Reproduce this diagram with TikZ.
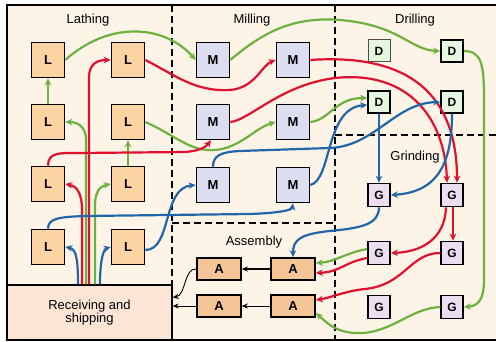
\documentclass[tikz,border=0pt]{standalone}
\usepackage{fontspec}
\setmainfont{Liberation Sans}
\usetikzlibrary{arrows.meta}
\definecolor{bgc}{HTML}{FDF3E6}
\definecolor{lfill}{HTML}{FCD4A4}
\definecolor{afill}{HTML}{F6C597}
\definecolor{mfill}{HTML}{DCDDEF}
\definecolor{dfill}{HTML}{E6F7E0}
\definecolor{gfill}{HTML}{ECDDF0}
\definecolor{rfill}{HTML}{FDE5D5}
\definecolor{gcol}{HTML}{6BB33E}
\definecolor{rcol}{HTML}{E1102F}
\definecolor{bcol}{HTML}{2166A8}
\pgfdeclarelayer{back}
\pgfsetlayers{back,main}
\begin{document}
\begin{tikzpicture}[x=1pt,y=-1pt,
  box/.style={draw=black, line width=1.6pt, inner sep=0pt, font=\bfseries\fontsize{13}{13}\selectfont},
  lbox/.style={box, fill=lfill, minimum width=33pt, minimum height=35pt},
  mbox/.style={box, fill=mfill, minimum width=33pt, minimum height=35pt},
  dbox/.style={box, fill=dfill, minimum width=22pt, minimum height=22pt, font=\bfseries\fontsize{12}{12}\selectfont},
  gbox/.style={box, fill=gfill, minimum width=22pt, minimum height=23pt, font=\bfseries\fontsize{12}{12}\selectfont},
  abox/.style={box, fill=afill, minimum width=44pt, minimum height=22pt},
  lbl/.style={font=\fontsize{13}{13}\selectfont},
  flow/.style={line width=2.2pt, -{Stealth[length=7pt,width=6.5pt]}},
  gflow/.style={flow, draw=gcol},
  rflow/.style={flow, draw=rcol},
  bflow/.style={flow, draw=bcol},
  divider/.style={draw=black, line width=1.6pt, dash pattern=on 7pt off 4pt}
]
\path[use as bounding box] (0,0) rectangle (496,342);
\begin{pgfonlayer}{back}
\fill[bgc] (7,5) rectangle (496,340);
\draw[line width=1.4pt] (496,5) -- (7,5) -- (7,340) -- (496,340);
\draw[divider] (172,5) -- (172,340);
\draw[divider] (335,5) -- (335,340);
\draw[divider] (335,135) -- (496,135);
\draw[divider] (172,223) -- (335,223);
\end{pgfonlayer}

% labels
\node[lbl] (tlath) at (88,20) {Lathing};
\node[lbl] (tmill) at (252,20) {Milling};
\node[lbl] (tdrill) at (415,20) {Drilling};
\node[lbl] (tgrind) at (415,157) {Grinding};
\node[lbl] (tasm) at (254,242) {Assembly};

% receiving
\node[draw=black, line width=1.2pt, fill=rfill, minimum width=165pt, minimum height=55pt,
      align=center, lbl, inner sep=0pt] (recv) at (89.5,312.5) {Receiving and\\shipping};

% lathes
\node[lbox] (L11) at (48,60) {L};
\node[lbox] (L12) at (128,60) {L};
\node[lbox] (L21) at (48,122) {L};
\node[lbox] (L22) at (128,122) {L};
\node[lbox] (L31) at (48,184) {L};
\node[lbox] (L32) at (128,184) {L};
\node[lbox] (L41) at (48,247) {L};
\node[lbox] (L42) at (128,247) {L};
% mills
\node[mbox] (M11) at (213,60) {M};
\node[mbox] (M12) at (293,60) {M};
\node[mbox] (M21) at (213,122) {M};
\node[mbox] (M22) at (293,122) {M};
\node[mbox] (M31) at (213,185) {M};
\node[mbox] (M32) at (293,185) {M};
% drills
\node[dbox, draw=black!70, line width=1pt] (D11) at (379,51) {D};
\node[dbox] (D12) at (452,51) {D};
\node[dbox] (D21) at (379,102) {D};
\node[dbox] (D22) at (452,102) {D};
% grinders
\node[gbox] (G11) at (379,195) {G};
\node[gbox] (G12) at (452,195) {G};
\node[gbox] (G21) at (379,253) {G};
\node[gbox] (G22) at (452,253) {G};
\node[gbox] (G31) at (379,307) {G};
\node[gbox] (G32) at (452,307) {G};
% assembly
\node[abox] (A11) at (219,269) {A};
\node[abox] (A12) at (293,269) {A};
\node[abox] (A21) at (219,306) {A};
\node[abox] (A22) at (293,306) {A};

% ---- from receiving
\draw[bflow] ([xshift=-11.5pt]recv.north) .. controls (78,258) and (76,249) .. (L41.east);
\draw[rflow] ([xshift=-7.5pt]recv.north) -- (82,210) .. controls (82,192) and (76,186) .. (L31.east);
\draw[gflow] ([xshift=-3.5pt]recv.north) -- (86,140) .. controls (86,127) and (78,122) .. (L21.east);
\draw[rflow] ([xshift=-0.5pt]recv.north) -- (89,78) .. controls (89,63) and (98,60) .. (L12.west);
\draw[gflow] ([xshift=5.5pt]recv.north) -- (95,205) .. controls (95,192) and (100,186) .. (L32.west);
\draw[bflow] ([xshift=10.5pt]recv.north) .. controls (100,258) and (104,249) .. (L42.west);

% ---- green
\draw[gflow] (L21.north) -- (L11.south);
\draw[gflow] (L11.east) .. controls (110,20) and (165,25) .. (M11.west);
\draw[gflow] (M11.east) .. controls (260,35) and (290,16) .. (340,20) .. controls (400,25) and (410,50) .. (D12.west);
\draw[gflow] (D12.east) .. controls (482,51) and (484,65) .. (484,100) -- (484,280) .. controls (484,300) and (478,306) .. (G32.east);
\draw[gflow] (G32.west) .. controls (410,308) and (390,335) .. (355,333) .. controls (335,332) and (326,322) .. ([yshift=-7pt]A22.east);
\draw[gflow] (L32.north) -- (L22.south);
\draw[gflow] (L22.east) .. controls (175,135) and (190,152) .. (215,150) .. controls (240,148) and (255,128) .. (M22.west);
\draw[gflow] (M22.east) .. controls (330,120) and (335,98) .. ([yshift=4pt]D21.west);
\draw[gflow] ([yshift=4pt]G21.west) .. controls (345,253) and (335,262) .. ([yshift=6pt]A12.east);

% ---- red
\draw[rflow] (L31.north) .. controls (48,152) and (60,153) .. (80,153) -- (185,152) .. controls (198,151) and (205,148) .. ([xshift=-2pt]M21.south);
\draw[rflow] (M21.east) .. controls (250,120) and (280,85) .. (335,78) .. controls (410,70) and (445,120) .. ([xshift=-5pt]G12.north);
\draw[rflow] (L12.east) .. controls (175,75) and (195,92) .. (230,90) .. controls (255,88) and (262,65) .. (M12.west);
\draw[rflow] (M12.east) .. controls (425,52) and (457,110) .. ([xshift=5pt]G12.north);
\draw[rflow] ([xshift=1pt]G12.south) -- ([xshift=1pt]G22.north);
\draw[rflow] ([xshift=-6pt]G12.south) .. controls (445,240) and (420,252) .. (G21.east);
\draw[rflow] ([yshift=-5pt]G21.west) .. controls (345,262) and (340,272) .. ([yshift=-4pt]A12.east);
\draw[rflow] (G22.west) .. controls (410,253) and (405,285) .. (365,289) .. controls (345,291) and (330,298) .. ([yshift=6pt]A22.east);

% ---- blue
\draw[bflow] (L41.north) .. controls (48,218) and (60,217) .. (85,216) -- (250,214) .. controls (280,213) and (292,210) .. (M32.south);
\draw[bflow] ([yshift=-3pt]L42.east) .. controls (172,250) and (162,188) .. (M31.west);
\draw[bflow] (M31.north) .. controls (213,156) and (220,152) .. (240,151) -- (330,148) .. controls (375,146) and (395,103) .. (D22.west);
\draw[bflow] (M32.east) .. controls (332,180) and (325,108) .. ([yshift=-3pt]D21.west);
\draw[bflow] (D21.south) -- (G11.north);
\draw[bflow] (D22.south) .. controls (452,160) and (440,192) .. (G11.east);
\draw[bflow] (G11.south) .. controls (379,225) and (360,228) .. (330,231) .. controls (300,234) and (293,240) .. (A12.north);

% ---- black
\draw[line width=1.6pt, -{Stealth[length=6pt,width=5pt]}] (A12.west) -- (A11.east);
\draw[line width=0.9pt, -{Stealth[length=6pt,width=5pt]}] (A22.west) -- (A21.east);
\draw[line width=0.9pt, -{Stealth[length=6pt,width=5pt]}] (A11.west) .. controls (184,268) and (186,295) .. ([yshift=15pt]recv.east);
\draw[line width=0.9pt, -{Stealth[length=6pt,width=5pt]}] (A21.west) -- (A21.west -| recv.east);
\end{tikzpicture}
\end{document}
